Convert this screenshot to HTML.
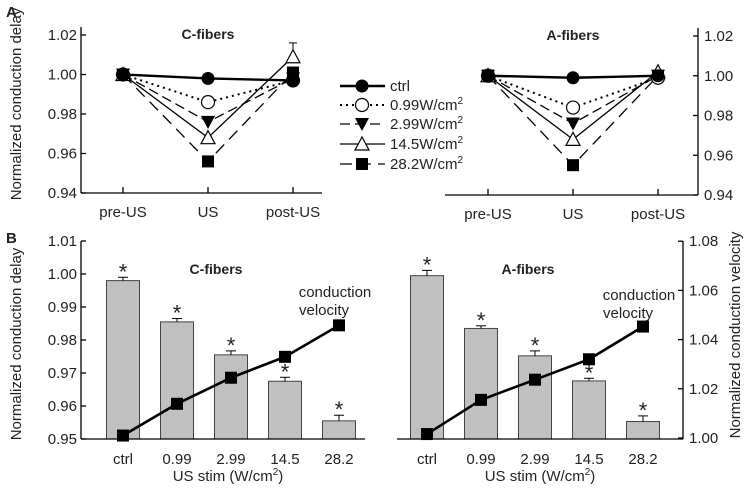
<!DOCTYPE html>
<html><head><meta charset="utf-8"><style>
html,body{margin:0;padding:0;background:#fff}
svg{display:block;font-family:"Liberation Sans",Arial,sans-serif}
</style></head><body>
<svg id="c" width="750" height="490" viewBox="0 0 750 490" xmlns="http://www.w3.org/2000/svg"></svg>
<script>
const phases=["pre-US","US","post-US"];
const groups=["ctrl","0.99W/cm²","2.99W/cm²","14.5W/cm²","28.2W/cm²"];
const cA=[[1.000,0.998,0.997],[1.000,0.986,0.997],[1.000,0.976,0.998],[1.000,0.968,1.009],[1.000,0.956,1.001]];
const aA=[[1.000,0.999,1.000],[1.000,0.984,0.999],[1.000,0.976,1.000],[1.000,0.968,1.002],[1.000,0.955,1.000]];
const cAerr=[0,0,0,0.007,0];
const stims=["ctrl","0.99","2.99","14.5","28.2"];
const cBars=[0.998,0.9855,0.9755,0.9675,0.9555];
const cBarErr=[0.001,0.001,0.0012,0.0012,0.0017];
const aBars=[0.9995,0.9835,0.9752,0.9676,0.9553];
const aBarErr=[0.0016,0.0008,0.0015,0.0008,0.0017];
const cCV=[1.001,1.0139,1.0245,1.033,1.0458];
const aCV=[1.0016,1.0155,1.0237,1.032,1.0453];
const aTicks=[0.94,0.96,0.98,1.00,1.02];
const bTicks=[0.95,0.96,0.97,0.98,0.99,1.00,1.01];
const cvTicks=[1.00,1.02,1.04,1.06,1.08];

const S=document.getElementById('c');const NS="http://www.w3.org/2000/svg";
function el(t,a,txt){const e=document.createElementNS(NS,t);for(const k in a)e.setAttribute(k,a[k]);if(txt!=null)e.textContent=txt;S.appendChild(e);return e;}
function line(x1,y1,x2,y2,w,da){return el('line',{x1,y1,x2,y2,stroke:'#000','stroke-width':w||1.3,'stroke-dasharray':da||'none'});}
function text(x,y,s,sz,anchor,bold){return el('text',{x,y,'font-size':sz||15,'text-anchor':anchor||'middle','font-weight':bold?'bold':'normal',fill:'#222'},s);}
const styles=[{w:2.4,da:'none'},{w:2,da:'2,4'},{w:1.3,da:'10,5'},{w:1.3,da:'none'},{w:1.3,da:'12,7'}];
function marker(k,x,y){
  let e;
  if(k==0)e=el('circle',{cx:x,cy:y,r:6.5,fill:'#000'});
  else if(k==1)e=el('circle',{cx:x,cy:y,r:6.5,fill:'#fff',stroke:'#000','stroke-width':1.2});
  else if(k==2)e=el('polygon',{points:`${x-7},${y-6} ${x+7},${y-6} ${x},${y+7}`,fill:'#000'});
  else if(k==3)e=el('polygon',{points:`${x-7},${y+6} ${x+7},${y+6} ${x},${y-7}`,fill:'#fff',stroke:'#000','stroke-width':1.2});
  else e=el('rect',{x:x-6,y:y-6,width:12,height:12,fill:'#000'});
  
  
}
text(6,17,'A',15,'start',true);
text(6,243,'B',15,'start',true);

function panelA(data,axX,x0,x1,cx0,yTop,yBot,right,title,tx){
  const y=v=>yBot-(v-0.94)/0.08*(yBot-yTop);
  const x=i=>cx0+i*85;
  line(axX,yTop-8,axX,yBot);line(x0,yBot,x1,yBot);
  aTicks.forEach(t=>{line(axX,y(t),axX+(right?-5:5),y(t));
    const tl=text(right?axX+6:axX-4,y(t)+5,t.toFixed(2),15,right?'start':'end');});
  phases.forEach((p,i)=>{line(x(i),yBot,x(i),yBot-6);const tl=text(x(i),yBot+24,p,15);});
  const tt=text(tx,y(1.02)+4,title,14,'middle',true);
  if(data===cA){line(x(2),y(cA[3][2]),x(2),y(cA[3][2]+cAerr[3]),1,'none');line(x(2)-4,y(cA[3][2]+cAerr[3]),x(2)+4,y(cA[3][2]+cAerr[3]),1,'none');}
  data.forEach((s,k)=>{const pl=el('polyline',{points:s.map((v,i)=>x(i)+','+y(v)).join(' '),fill:'none',stroke:'#000','stroke-width':styles[k].w,'stroke-dasharray':styles[k].da});
    });
  [4,3,2,1,0].forEach(k=>data[k].forEach((v,i)=>marker(k,x(i),y(v))));
}
panelA(cA,81,81,322,123,35,193,false,'C-fibers',208);
panelA(aA,698,445,698,488,36,195,true,'A-fibers',573);
const yl=text(0,0,'Normalized conduction delay',15);yl.setAttribute('transform','translate(21,104) rotate(-90)');
// legend
groups.forEach((g,k)=>{const yy=[86,105,124,144,164][k];
  line(340,yy,385,yy,styles[k].w,styles[k].da);marker(k,362,yy);
  const t=text(390,yy+5,'',15,'start');
  if(k==0)t.textContent=g;else{t.textContent=g.slice(0,-1);const s=document.createElementNS(NS,'tspan');s.setAttribute('font-size','10');s.setAttribute('dy','-6');s.textContent='2';t.appendChild(s);}
});

function panelB(bars,errs,cv,x0,x1,cx0,title,tx,left){
  const yBot=439;
  const y=v=>yBot-(v-0.95)*3300;
  const yv=v=>438-(v-1.0)/0.02*49.2;
  const x=i=>cx0+i*54;
  bars.forEach((v,i)=>{const r=el('rect',{x:x(i)-16.5,y:y(v),width:33,height:yBot-y(v),fill:'#c0c0c0',stroke:'#444','stroke-width':1});
    
    const ye=y(v+errs[i]);line(x(i),y(v),x(i),ye,1);line(x(i)-5,ye,x(i)+5,ye,1);
    text(x(i),ye+2,'*',22);
    const tl=text(x(i),yBot+25,stims[i],15);
  });
  line(x0,yBot,x1,yBot);
  const pl=el('polyline',{points:cv.map((v,i)=>x(i)+','+yv(v)).join(' '),fill:'none',stroke:'#000','stroke-width':2.6});
  
  cv.forEach((v,i)=>{const r=el('rect',{x:x(i)-6,y:yv(v)-6,width:12,height:12,fill:'#000'});});
  const tt=text(tx,274,title,14,'middle',true);
  const ay=left?297:300;
  text(x(4)-4,ay,'conduction',15);
  text(x(4)-15,ay+18,'velocity',15);
  const xt=text((x0+x1)/2+(left?5:0),481,'US stim (W/cm',15);
  const s=document.createElementNS(NS,'tspan');s.setAttribute('font-size','10');s.setAttribute('dy','-6');s.textContent='2';xt.appendChild(s);
  const s2=document.createElementNS(NS,'tspan');s2.setAttribute('dy','6');s2.textContent=')';xt.appendChild(s2);
  if(left){line(81,241,81,yBot);
    bTicks.forEach(t=>{line(81,y(t),86,y(t));const tl=text(77,y(t)+5,t.toFixed(2),15,'end');});
  }else{line(683,241,683,yBot);
    cvTicks.forEach(t=>{line(683,yv(t),678,yv(t));const tl=text(689,yv(t)+5,t.toFixed(2),15,'start');});
  }
}
panelB(cBars,cBarErr,cCV,81,365,123,'C-fibers',216,true);
panelB(aBars,aBarErr,aCV,397,683,427,'A-fibers',528,false);
const yb=text(0,0,'Normalized conduction delay',15);yb.setAttribute('transform','translate(21,344) rotate(-90)');
const yr=text(0,0,'Normalized conduction velocity',15);yr.setAttribute('transform','translate(740,335) rotate(-90)');
</script>
</body></html>
